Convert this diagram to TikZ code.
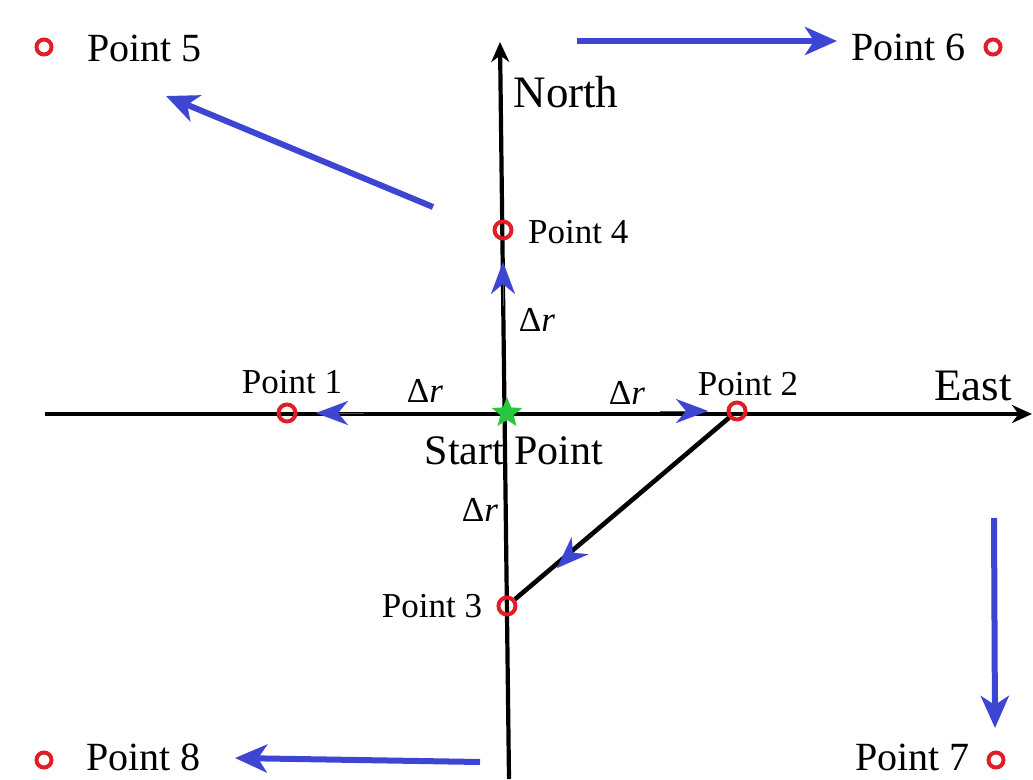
\documentclass[tikz,border=0pt]{standalone}
\usepackage{fontspec}
\setmainfont{Liberation Serif}
\usetikzlibrary{arrows.meta,shapes.geometric}
\definecolor{arrblue}{RGB}{60,70,210}
\definecolor{ptred}{RGB}{225,30,40}
\definecolor{stargreen}{RGB}{40,200,60}
\tikzset{
  ring/.style={circle,draw=ptred,line width=4pt,minimum size=17pt,inner sep=0pt},
  lblin/.style={font=\fontsize{35}{38}\selectfont,inner sep=0pt},
  lblout/.style={font=\fontsize{40}{44}\selectfont,inner sep=0pt},
  axislbl/.style={font=\fontsize{45}{48}\selectfont,inner sep=0pt},
  axis/.style={line width=4.2pt,-{Stealth[length=20pt,width=18pt]}},
  bluearrow/.style={arrblue,line width=6pt,-{Stealth[length=32pt,width=28pt,inset=9pt]}},
  bluetip/.style={arrblue,line width=0.1pt,-{Stealth[length=32pt,width=24pt,inset=10pt]}},
  drlbl/.style={font=\fontsize{35}{38}\selectfont,inner sep=0pt},
}
\newcommand{\dr}{Δ\textit{r}}
\begin{document}
\begin{tikzpicture}[x=1pt,y=-1pt]
\useasboundingbox (0,0) rectangle (1033,779);
% labels
\node[axislbl,font=\fontsize{42}{46}\selectfont] (startlbl) at (514,451) {Start Point};
\node[axislbl] (north) at (566,92) {North};
\node[axislbl] (east) at (973,386) {East};
% axes
\coordinate (west) at (45,414);
\coordinate (eastend) at (1032,414);
\coordinate (south) at (509,779);
\coordinate (top) at (500,42);
\draw[axis] (west) -- (eastend);
\draw[axis] (south) -- (top);
% points
\node[ring] (p1) at (287,413) {};
\node[ring] (p2) at (737,411) {};
\node[ring] (p3) at (507,606) {};
\node[ring] (p4) at (503,230) {};
\node[ring,minimum size=15pt] (p5) at (44,47) {};
\node[ring,minimum size=15pt] (p6) at (993,47) {};
\node[ring,minimum size=15pt] (p7) at (996,760) {};
\node[ring,minimum size=15pt] (p8) at (44,760) {};
\node[star,star points=5,star point ratio=2.3,fill=stargreen,minimum size=32pt,inner sep=0pt] (start) at (507,413) {};
% diagonal
\draw[line width=4.6pt] (p2) -- (p3);
% small blue tips
\coordinate (t1a) at (364,413); \coordinate (t1b) at (316,413);
\coordinate (t2a) at (660,411); \coordinate (t2b) at (708,411);
\coordinate (t4a) at (503,306); \coordinate (t4b) at (503,262);
\coordinate (t3a) at (592,534); \coordinate (t3b) at (557,568);
\draw[bluetip] (t1a) -- (t1b);
\draw[bluetip] (t2a) -- (t2b);
\draw[bluetip] (t4a) -- (t4b);
\draw[bluetip] (t3a) -- (t3b);
% text labels
\node[lblin] (l1) at (292,382) {Point 1};
\node[lblin] (l2) at (748,384) {Point 2};
\node[lblin] (l3) at (432,606) {Point 3};
\node[lblin,anchor=west] (l4) at (528,232) {Point 4};
\node[lblout,anchor=west] (l5) at (87,48) {Point 5};
\node[lblout,anchor=east] (l6) at (966,47) {Point 6};
\node[lblout,anchor=base east] (l7) at (970,770) {Point 7};
\node[lblout,anchor=base west] (l8) at (86,770) {Point 8};
\node[drlbl] (d1) at (425,391) {\dr};
\node[drlbl] (d2) at (627,393) {\dr};
\node[drlbl] (d4) at (537,320) {\dr};
\node[drlbl] (d3) at (480,510) {\dr};
% outer blue arrows
\coordinate (a5s) at (433,207); \coordinate (a5e) at (166,96);
\coordinate (a6s) at (577,41); \coordinate (a6e) at (837,41);
\coordinate (a7s) at (994,518); \coordinate (a7e) at (995,728);
\coordinate (a8s) at (480,762); \coordinate (a8e) at (235,758);
\draw[bluearrow] (a5s) -- (a5e);
\draw[bluearrow] (a6s) -- (a6e);
\draw[bluearrow] (a7s) -- (a7e);
\draw[bluearrow] (a8s) -- (a8e);
\end{tikzpicture}
\end{document}
